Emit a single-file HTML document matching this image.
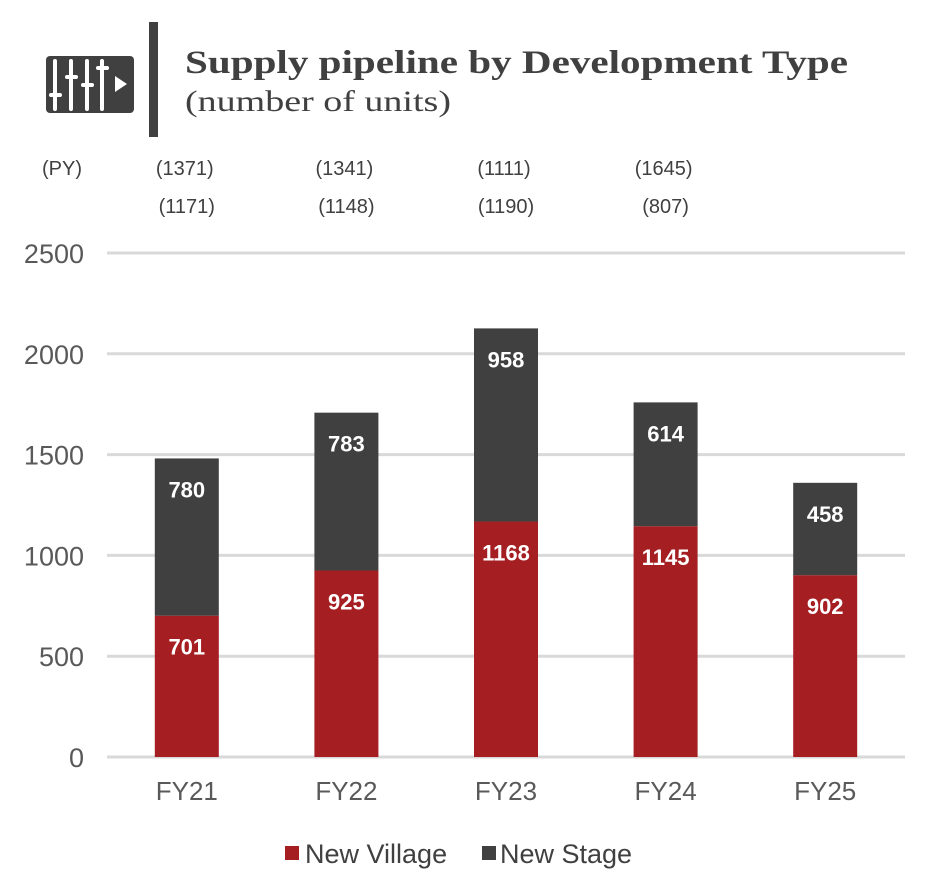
<!DOCTYPE html>
<html><head><meta charset="utf-8"><style>
body{margin:0;background:#fff;width:928px;height:886px;overflow:hidden;font-family:"Liberation Sans",sans-serif}
</style></head><body>
<svg width="928" height="886" viewBox="0 0 928 886">
<g>
<rect x="46" y="56" width="88" height="57" rx="4" fill="#404040"/>
<g stroke="#fff" stroke-width="4" stroke-linecap="round">
<line x1="55" y1="61" x2="55" y2="109"/><line x1="71" y1="61" x2="71" y2="109"/><line x1="87" y1="61" x2="87" y2="109"/><line x1="102" y1="61" x2="102" y2="109"/>
</g>
<g fill="#fff"><rect x="49" y="93" width="13" height="4" rx="2"/><rect x="65" y="75" width="13" height="4" rx="2"/><rect x="81" y="83" width="13" height="4" rx="2"/><rect x="96" y="66" width="13" height="4" rx="2"/>
<polygon points="115,76 115,92 127,84"/></g>
</g>
<rect x="149" y="22" width="9" height="115" fill="#404040"/>
<text x="185" y="73" font-family="Liberation Serif,serif" font-weight="bold" font-size="33" fill="#404040" textLength="663" lengthAdjust="spacingAndGlyphs">Supply pipeline by Development Type</text>
<text x="185" y="111" font-family="Liberation Serif,serif" font-size="30" fill="#404040" textLength="266" lengthAdjust="spacingAndGlyphs">(number of units)</text>
<text x="62" y="175" font-size="20" fill="#404040" text-anchor="middle">(PY)</text>
<g id="grid"></g><g id="bars"></g><g id="labels"></g>
<g>
<rect x="285" y="846" width="14" height="14" fill="#a51e22"/>
<text x="305" y="863" font-size="27" fill="#404040">New Village</text>
<rect x="482" y="846" width="14" height="14" fill="#404040"/>
<text x="500" y="863" font-size="27" fill="#404040">New Stage</text>
</g>
</svg>
<script>
const categories=["FY21","FY22","FY23","FY24","FY25"];
const newVillage=[701,925,1168,1145,902];
const newStage=[780,783,958,614,458];
const pyLine1=["(1371)","(1341)","(1111)","(1645)"];
const pyLine2=["(1171)","(1148)","(1190)","(807)"];
const yTicks=[0,500,1000,1500,2000,2500];
const NS="http://www.w3.org/2000/svg";
const y0=757,scale=504/2500,x0=107,x1=905,bw=64;
const y=v=>y0-v*scale;
const xc=i=>x0+(x1-x0)/categories.length*(i+0.5);
function mk(t,a,p,txt){const e=document.createElementNS(NS,t);for(const k in a)e.setAttribute(k,a[k]);if(txt!=null)e.textContent=txt;document.getElementById(p).appendChild(e);return e;}
yTicks.forEach(v=>{
 const l=mk('line',{x1:x0,x2:x1,y1:y(v),y2:y(v),stroke:'#d9d9d9','stroke-width':3},'grid');
 
 
 const t=mk('text',{x:84,y:y(v)+10,'font-size':27,fill:'#595959','text-anchor':'end'},'grid',String(v));
 
 
});
categories.forEach((c,i)=>{
 const cx=xc(i);
 const r=mk('rect',{x:cx-bw/2,y:y(newVillage[i]),width:bw,height:newVillage[i]*scale,fill:'#a51e22'},'bars');
 
 
 const d=mk('rect',{x:cx-bw/2,y:y(newVillage[i]+newStage[i]),width:bw,height:newStage[i]*scale,fill:'#404040'},'bars');
 
 
 const a=mk('text',{x:cx,y:y(newVillage[i])+39,'font-size':22,'font-weight':'bold',fill:'#fff','text-anchor':'middle'},'labels',String(newVillage[i]));
 
 
 const b=mk('text',{x:cx,y:y(newVillage[i]+newStage[i])+39,'font-size':22,'font-weight':'bold',fill:'#fff','text-anchor':'middle'},'labels',String(newStage[i]));
 
 
 const t=mk('text',{x:cx,y:800,'font-size':26,fill:'#595959','text-anchor':'middle'},'labels',c);
 
 
 if(i<pyLine1.length){
  const p=mk('text',{x:cx-2,y:175,'font-size':20,fill:'#404040','text-anchor':'middle'},'labels',pyLine1[i]);
  
  
  const q=mk('text',{x:cx,y:213,'font-size':20,fill:'#404040','text-anchor':'middle'},'labels',pyLine2[i]);
  
  
 }
});
</script>
</body></html>
